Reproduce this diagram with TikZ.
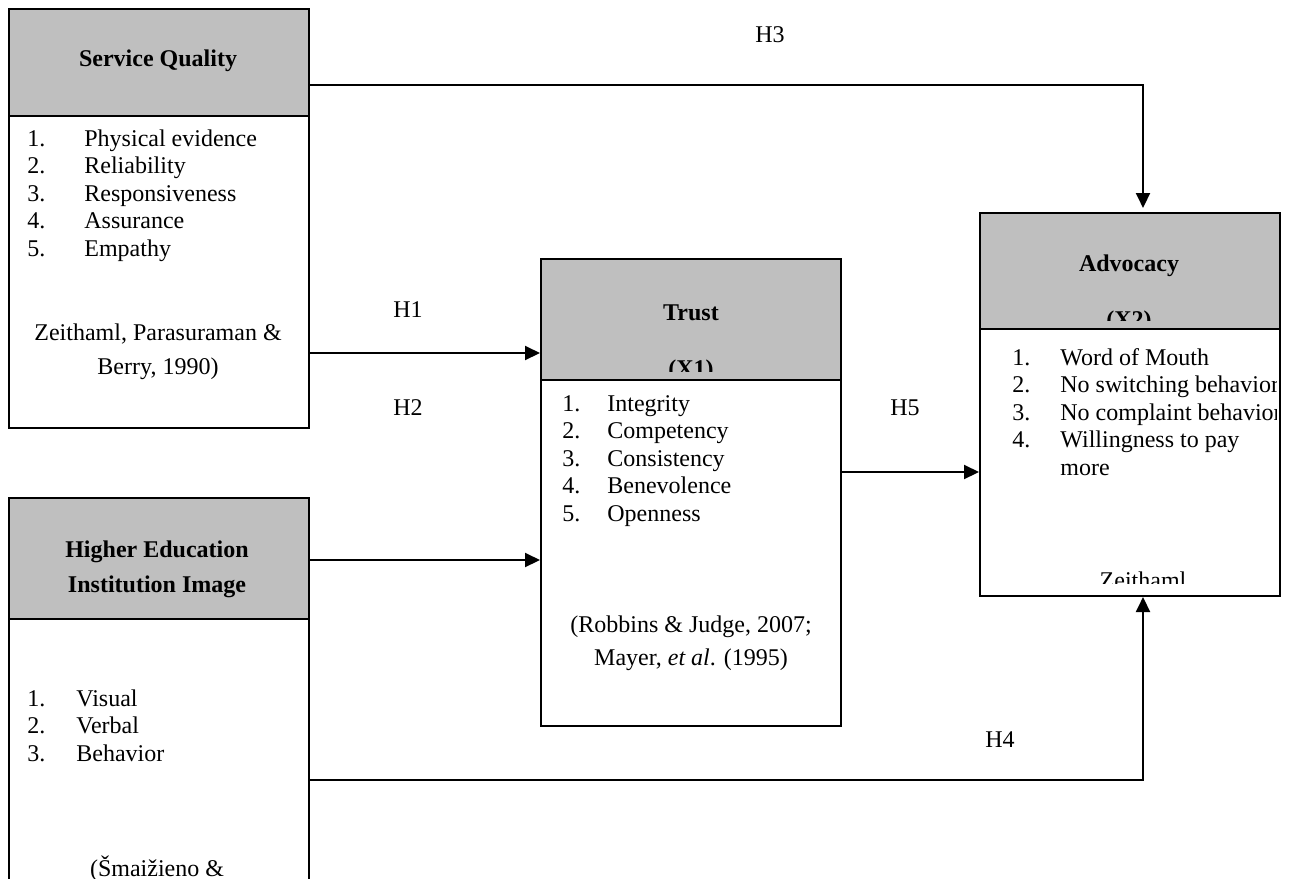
\documentclass[tikz,border=0pt]{standalone}
\usepackage{fontspec}
\setmainfont{Liberation Serif}
\usetikzlibrary{arrows.meta,calc}
\definecolor{hdrgray}{RGB}{191,191,191}
\tikzset{
  box/.style={draw, line width=1pt, inner sep=0pt, anchor=north west, minimum width=150pt},
  hdr/.style={box, fill=hdrgray},
  arr/.style={line width=1pt, -{Triangle[length=7.5pt,width=7pt]}},
  txt/.style={inner sep=0pt, font=\fontsize{12}{13.8}\selectfont},
  ttl/.style={txt, font=\fontsize{12}{13.8}\selectfont\bfseries},
}
\begin{document}
\begin{tikzpicture}[x=0.5pt,y=-0.5pt]
    \clip (0,0) rectangle (1293,878);
    \fill[white] (0,0) rectangle (1293,878);
    \node[box, minimum height=209.5pt] (sq) at (8,8) {};
    \node[hdr, minimum height=53.5pt] (sqh) at (8,8) {};
    \node[box, minimum height=233.5pt] (tr) at (540,258) {};
    \node[hdr, minimum height=60.5pt] (trh) at (540,258) {};
    \node[box, minimum height=191.5pt] (adv) at (979,212) {};
    \node[hdr, minimum height=58pt] (advh) at (979,212) {};
    \node[box, minimum height=240pt] (hei) at (8,497) {};
    \node[hdr, minimum height=60.5pt] (heih) at (8,497) {};

    \node[ttl] (sqt) at (158,61) {Service Quality};
    \node[txt, anchor=base west] (sql) at (27,146) {\begin{tabular}[t]{@{}p{28.5pt}@{}l@{}}1.&Physical evidence\\2.&Reliability\\3.&Responsiveness\\4.&Assurance\\5.&Empathy\end{tabular}};
    \node[txt] (sqc1) at (158,334) {Zeithaml, Parasuraman \&};
    \node[txt] (sqc2) at (158,369) {Berry, 1990)};

    \begin{scope}
        \clip (540,258) rectangle (840,371);
        \node[ttl, anchor=base] (trt) at (691,320) {Trust};
        \node[ttl, anchor=base] (trx) at (691,376) {(X1)};
    \end{scope}
    \node[txt, anchor=base west] (trl) at (562,411) {\begin{tabular}[t]{@{}p{22.5pt}@{}l@{}}1.&Integrity\\2.&Competency\\3.&Consistency\\4.&Benevolence\\5.&Openness\end{tabular}};
    \node[txt] (trc1) at (691,627) {(Robbins \& Judge, 2007;};
    \node[txt] (trc2) at (691,660) {Mayer, \textit{et al}. (1995)};

    \begin{scope}
        \clip (979,212) rectangle (1279,320);
        \node[ttl, anchor=base] (advt) at (1129,271) {Advocacy};
        \node[ttl, anchor=base] (advx) at (1129,327) {(X2)};
    \end{scope}
    \begin{scope}
        \clip (979,328) rectangle (1276,583);
        \node[txt, anchor=base west] (advl) at (1012,365) {\begin{tabular}[t]{@{}p{24pt}@{}l@{}}1.&Word of Mouth\\2.&No switching behavior\\3.&No complaint behavior\\4.&Willingness to pay\\&more\end{tabular}};
        \node[txt, anchor=base] (advc) at (1143,588) {Zeithaml};
    \end{scope}

    \node[ttl] (heit1) at (157,552) {Higher Education};
    \node[ttl] (heit2) at (157,587) {Institution Image};
    \node[txt, anchor=base west] (heil) at (27,706) {\begin{tabular}[t]{@{}p{24.5pt}@{}l@{}}1.&Visual\\2.&Verbal\\3.&Behavior\end{tabular}};
    \node[txt, anchor=base] (heic) at (157,876) {(Šmaižieno \&};

    \draw[arr] ($(sq.north east)+(0,77)$) -| ($(adv.north)+(13,-4)$);
    \draw[arr] ($(sq.north east)+(0,345)$) coordinate (h1s) -- (h1s -| tr.west);
    \draw[arr] ($(hei.north east)+(0,63)$) coordinate (h2s) -- (h2s -| tr.west);
    \draw[arr] ($(tr.north east)+(0,214)$) coordinate (h5s) -- (h5s -| adv.west);
    \draw[arr] ($(hei.north east)+(0,283)$) -| ($(adv.south)+(13,0)$);

    \node[txt] (h3) at (770,35) {H3};
    \node[txt] (h1) at (408,310) {H1};
    \node[txt] (h2) at (408,408) {H2};
    \node[txt] (h5) at (905,408) {H5};
    \node[txt] (h4) at (1000,740) {H4};
\end{tikzpicture}
\end{document}
